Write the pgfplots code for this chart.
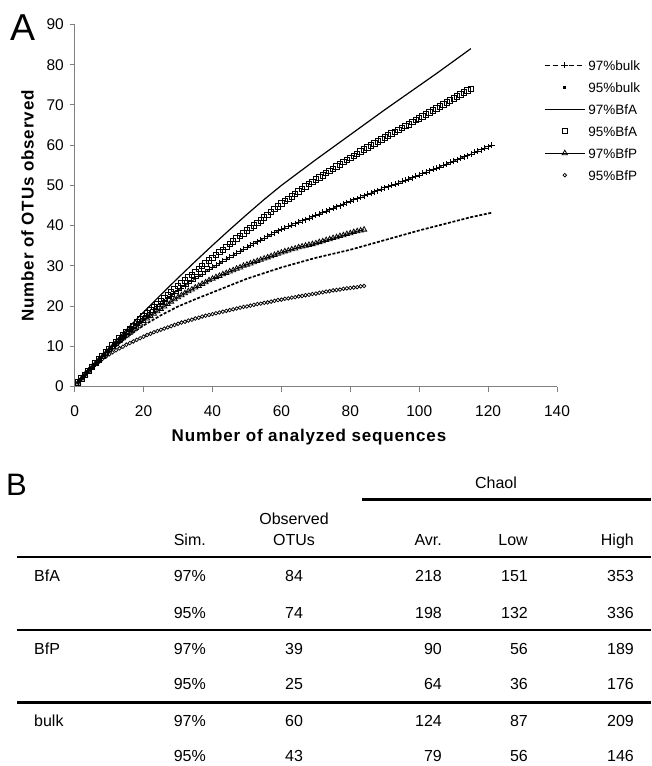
\documentclass[border=0pt]{standalone}
\usepackage{fontspec}
\setmainfont{Liberation Sans}
\usepackage{pgfplots}
\pgfplotsset{compat=1.18}

\pgfplotsset{
  wide legend/.style={legend image code/.code={%
      \draw[mark repeat=2,mark phase=2,##1] plot coordinates {(0pt,0pt) (20pt,0pt) (40pt,0pt)};}},
}

\newcommand\tabfont{\fontsize{16}{19}\selectfont}
\newcommand\axlabfont{\fontsize{17}{20}\selectfont\bfseries\addfontfeatures{LetterSpace=5}}

% one table row: group, similarity, observed, Chao1 avr/low/high, baseline (pt below top)
\newcommand\tabrow[7]{%
  \node[anchor=base west] at (34pt,-#7pt) {#1};
  \node[anchor=base east] at (206pt,-#7pt) {#2};
  \node[anchor=base] at (294pt,-#7pt) {#3};
  \node[anchor=base east] at (442pt,-#7pt) {#4};
  \node[anchor=base east] at (528pt,-#7pt) {#5};
  \node[anchor=base east] at (634pt,-#7pt) {#6};
}

\begin{document}
\begin{tikzpicture}
\useasboundingbox (0pt,0pt) rectangle (651pt,-766pt);

% panel letters
\node[anchor=base west, inner sep=0pt, font=\fontsize{37.5}{40}\selectfont] at (10pt,-40pt) {A};
\node[anchor=base west, inner sep=0pt, font=\fontsize{31}{34}\selectfont] at (6pt,-495pt) {B};

% axis titles
\node[anchor=base, inner sep=0pt, font=\axlabfont] at (309pt,-441.7pt) {Number of analyzed sequences};
\node[rotate=90, inner sep=0pt, font=\axlabfont] at (27.5pt,-206pt) {Number of OTUs observed};

\begin{axis}[
  at={(74.7pt,-386.5pt)}, anchor=south west,
  scale only axis, width=482.3pt, height=362pt,
  xmin=0, xmax=140, ymin=0, ymax=90,
  axis x line*=bottom, axis y line*=left,
  axis line style={-, draw=black!50, line width=0.9pt},
  xtick={0,20,...,140}, ytick={0,10,...,90},
  tick align=outside, major tick length=5pt,
  tick style={draw=black!50, line width=0.9pt},
  ticklabel style={font=\fontsize{15.5}{18}\selectfont, inner sep=0pt},
  /pgf/number format/assume math mode=true,
  xticklabel style={anchor=north, yshift=-13.5pt},
  yticklabel style={anchor=east, xshift=-5.7pt},
  clip=false,
  legend style={draw=none, fill=none, at={(0.973,0.902)}, anchor=north west,
    font=\fontsize{13.5}{15}\selectfont, inner sep=0pt, row sep=12pt, column sep=3pt,
    nodes={inner sep=0pt, text height=10pt, text depth=0pt}},
  legend cell align=left,
]

% 97% bulk
\addplot[black, line width=0.8pt, dash pattern=on 5pt off 3pt, mark=+, mark size=3pt,
  mark options={solid, line width=0.75pt}, wide legend] coordinates {
(1,1)(2,2)(3,3)(4,3.9)(5,4.8)(6,5.7)(7,6.6)(8,7.5)(9,8.4)(10,9.2)
(11,10)(12,10.8)(13,11.6)(14,12.4)(15,13.2)(16,14)(17,14.8)(18,15.5)(19,16.3)(20,17)
(21,17.7)(22,18.4)(23,19.1)(24,19.8)(25,20.5)(26,21.1)(27,21.8)(28,22.5)(29,23.1)(30,23.8)
(31,24.4)(32,25)(33,25.6)(34,26.2)(35,26.8)(36,27.4)(37,27.9)(38,28.5)(39,29.1)(40,29.6)
(41,30.1)(42,30.6)(43,31.2)(44,31.7)(45,32.2)(46,32.7)(47,33.2)(48,33.7)(49,34.1)(50,34.6)
(51,35.1)(52,35.5)(53,36)(54,36.4)(55,36.9)(56,37.3)(57,37.8)(58,38.2)(59,38.7)(60,39.1)
(61,39.4)(62,39.8)(63,40.1)(64,40.5)(65,40.8)(66,41.2)(67,41.5)(68,41.9)(69,42.2)(70,42.6)
(71,42.9)(72,43.3)(73,43.6)(74,44)(75,44.3)(76,44.7)(77,45)(78,45.4)(79,45.7)(80,46.1)
(81,46.4)(82,46.7)(83,47.1)(84,47.4)(85,47.8)(86,48.1)(87,48.4)(88,48.7)(89,49.1)(90,49.4)
(91,49.7)(92,50)(93,50.3)(94,50.6)(95,51)(96,51.3)(97,51.6)(98,51.9)(99,52.3)(100,52.6)
(101,53)(102,53.3)(103,53.7)(104,54)(105,54.3)(106,54.6)(107,55)(108,55.3)(109,55.7)(110,56)
(111,56.4)(112,56.7)(113,57.1)(114,57.4)(115,57.8)(116,58.2)(117,58.5)(118,58.9)(119,59.2)(120,59.6)
(121,60)};
\addlegendentry{97\%bulk}

% 95% bulk
\addplot[black, line width=1.7pt, dash pattern=on 3pt off 1.6pt,
  legend image code/.code={\draw[black, solid, line width=3pt] (18.5pt,0pt) -- (21.5pt,0pt);}] coordinates {
(1,1)(5,4.8)(10,8.6)(15,12.2)(20,15.2)(25,17.7)(30,19.9)(35,21.7)(40,23.4)(45,25.1)
(50,26.8)(55,28.2)(60,29.6)(65,30.8)(70,32)(75,33)(80,34)(85,35.2)(90,36.4)(95,37.6)
(100,38.8)(105,39.9)(110,41)(115,42.1)(121,43.2)};
\addlegendentry{95\%bulk}

% 97% BfA
\addplot[black, line width=1.2pt, wide legend] coordinates {
(1,1)(5,5)(10,9.6)(15,14.1)(20,18.5)(25,22.8)(30,27)(35,31.1)(40,35.1)(45,39)
(50,42.8)(55,46.5)(60,50)(65,53.2)(70,56.4)(75,59.5)(80,62.6)(85,65.7)(90,68.8)(95,71.8)
(100,74.8)(105,77.8)(110,80.9)(115,84)};
\addlegendentry{97\%BfA}

% 95% BfA
\addplot[black, only marks, mark=square, mark size=2.7pt, mark options={line width=0.9pt}, wide legend] coordinates {
(1,1)(2,2)(3,2.9)(4,3.9)(5,4.8)(6,5.8)(7,6.7)(8,7.6)(9,8.5)(10,9.4)
(11,10.2)(12,11)(13,11.9)(14,12.7)(15,13.5)(16,14.3)(17,15.1)(18,15.9)(19,16.7)(20,17.5)
(21,18.2)(22,19)(23,19.8)(24,20.5)(25,21.2)(26,22)(27,22.8)(28,23.5)(29,24.2)(30,25)
(31,25.7)(32,26.4)(33,27.1)(34,27.8)(35,28.5)(36,29.2)(37,29.9)(38,30.6)(39,31.3)(40,32)
(41,32.7)(42,33.4)(43,34)(44,34.7)(45,35.4)(46,36.1)(47,36.8)(48,37.4)(49,38.1)(50,38.8)
(51,39.4)(52,40)(53,40.6)(54,41.3)(55,42)(56,42.6)(57,43.4)(58,44.1)(59,44.8)(60,45.5)
(61,46.1)(62,46.7)(63,47.3)(64,47.9)(65,48.5)(66,49.1)(67,49.7)(68,50.3)(69,50.9)(70,51.5)
(71,52)(72,52.5)(73,53.1)(74,53.6)(75,54.1)(76,54.7)(77,55.2)(78,55.8)(79,56.3)(80,56.8)
(81,57.3)(82,57.8)(83,58.4)(84,58.9)(85,59.4)(86,59.9)(87,60.4)(88,60.9)(89,61.4)(90,61.9)
(91,62.4)(92,62.9)(93,63.3)(94,63.8)(95,64.3)(96,64.8)(97,65.2)(98,65.7)(99,66.2)(100,66.6)
(101,67.1)(102,67.6)(103,68.1)(104,68.6)(105,69.1)(106,69.6)(107,70.1)(108,70.6)(109,71.1)(110,71.6)
(111,72.1)(112,72.6)(113,73.1)(114,73.6)(115,74)};
\addlegendentry{95\%BfA}

% 97% BfP
\addplot[black, line width=1pt, mark=triangle, mark size=3pt, mark options={line width=0.8pt}, wide legend] coordinates {
(1,1)(2,2)(3,3)(4,3.9)(5,4.8)(6,5.7)(7,6.6)(8,7.4)(9,8.2)(10,9)
(11,9.8)(12,10.5)(13,11.3)(14,12)(15,12.7)(16,13.4)(17,14.2)(18,14.9)(19,15.6)(20,16.3)
(21,16.9)(22,17.5)(23,18.1)(24,18.7)(25,19.3)(26,19.9)(27,20.5)(28,21.1)(29,21.7)(30,22.2)
(31,22.7)(32,23.2)(33,23.7)(34,24.1)(35,24.6)(36,25)(37,25.5)(38,25.9)(39,26.4)(40,26.8)
(41,27.2)(42,27.5)(43,27.9)(44,28.2)(45,28.6)(46,28.9)(47,29.3)(48,29.6)(49,30)(50,30.3)
(51,30.6)(52,30.9)(53,31.2)(54,31.5)(55,31.8)(56,32.1)(57,32.4)(58,32.7)(59,33)(60,33.3)
(61,33.6)(62,33.8)(63,34.1)(64,34.3)(65,34.6)(66,34.8)(67,35)(68,35.2)(69,35.4)(70,35.6)
(71,35.9)(72,36.1)(73,36.4)(74,36.6)(75,36.9)(76,37.1)(77,37.4)(78,37.6)(79,37.9)(80,38.1)
(81,38.4)(82,38.6)(83,38.8)(84,39)};
\addlegendentry{97\%BfP}

% 95% BfP
\addplot[black, only marks, mark=o, mark size=1.8pt, mark options={line width=0.75pt}, wide legend] coordinates {
(1,1)(2,2)(3,2.9)(4,3.8)(5,4.6)(6,5.4)(7,6.1)(8,6.8)(9,7.4)(10,8)
(11,8.5)(12,9)(13,9.5)(14,9.9)(15,10.4)(16,10.8)(17,11.2)(18,11.6)(19,12)(20,12.4)
(21,12.8)(22,13.1)(23,13.5)(24,13.8)(25,14.1)(26,14.4)(27,14.7)(28,15)(29,15.3)(30,15.6)
(31,15.9)(32,16.1)(33,16.4)(34,16.6)(35,16.9)(36,17.1)(37,17.4)(38,17.6)(39,17.8)(40,18)
(41,18.2)(42,18.4)(43,18.6)(44,18.8)(45,19)(46,19.2)(47,19.4)(48,19.6)(49,19.8)(50,19.9)
(51,20.1)(52,20.3)(53,20.5)(54,20.6)(55,20.8)(56,20.9)(57,21.1)(58,21.3)(59,21.5)(60,21.6)
(61,21.8)(62,21.9)(63,22.1)(64,22.2)(65,22.4)(66,22.5)(67,22.7)(68,22.8)(69,23)(70,23.1)
(71,23.3)(72,23.4)(73,23.6)(74,23.7)(75,23.9)(76,24)(77,24.1)(78,24.3)(79,24.4)(80,24.5)
(81,24.6)(82,24.7)(83,24.9)(84,25)};
\addlegendentry{95\%BfP}

\end{axis}

% table B: observed OTUs and Chao1 estimates
\begin{scope}[every node/.style={inner sep=0pt, font=\tabfont}]
  \node[anchor=base] at (496pt,-488.7pt) {Chaol};
  \draw[line width=2.6pt] (362pt,-499.3pt) -- (651pt,-499.3pt);
  \node[anchor=base] at (294pt,-524.7pt) {Observed};
  \node[anchor=base east] at (206pt,-545.7pt) {Sim.};
  \node[anchor=base] at (294pt,-545.7pt) {OTUs};
  \node[anchor=base east] at (442pt,-545.7pt) {Avr.};
  \node[anchor=base east] at (528pt,-545.7pt) {Low};
  \node[anchor=base east] at (634pt,-545.7pt) {High};
  \draw[line width=2.6pt] (17pt,-557pt) -- (651pt,-557pt);
  \tabrow{BfA}{97\%}{84}{218}{151}{353}{581.7}
  \tabrow{}{95\%}{74}{198}{132}{336}{618.2}
  \draw[line width=2.6pt] (17pt,-630pt) -- (651pt,-630pt);
  \tabrow{BfP}{97\%}{39}{90}{56}{189}{654.2}
  \tabrow{}{95\%}{25}{64}{36}{176}{689.7}
  \draw[line width=2.6pt] (17pt,-702.7pt) -- (651pt,-702.7pt);
  \tabrow{bulk}{97\%}{60}{124}{87}{209}{726.2}
  \tabrow{}{95\%}{43}{79}{56}{146}{761.2}
\end{scope}
\end{tikzpicture}
\end{document}
